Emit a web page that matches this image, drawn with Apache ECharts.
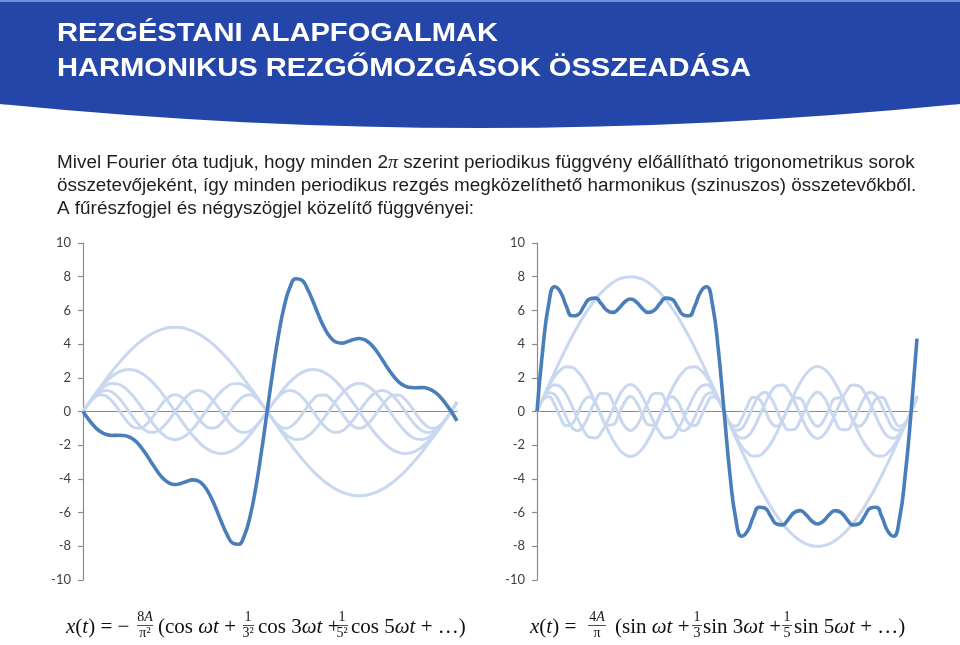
<!DOCTYPE html>
<html>
<head>
<meta charset="utf-8">
<script src="https://cdn.jsdelivr.net/npm/echarts@6/dist/echarts.min.js"></script>
<style>
html,body{margin:0;padding:0;background:#fff;}
#c{width:960px;height:645px;}
</style>
</head>
<body>
<div id="c"></div>
<script>
// x positions (t in radians), shared by both charts
const tValues = [0,0.10,0.20,0.29,0.39,0.49,0.59,0.69,0.79,0.88,0.98,1.08,1.18,1.28,1.37,1.47,1.57,1.67,1.77,1.87,1.96,2.06,2.16,2.26,2.36,2.45,2.55,2.65,2.75,2.85,2.95,3.04,3.14,3.24,3.34,3.44,3.53,3.63,3.73,3.83,3.93,4.03,4.12,4.22,4.32,4.42,4.52,4.61,4.71,4.81,4.91,5.01,5.11,5.20,5.30,5.40,5.50,5.60,5.69,5.79,5.89,5.99,6.09,6.19,6.28,6.40];
const yTicks = [-10,-8,-6,-4,-2,0,2,4,6,8,10];

// Left chart (sawtooth approximation): harmonic components and their sum
const sawH1 = [0,0.49,0.98,1.45,1.91,2.36,2.78,3.17,3.54,3.87,4.16,4.41,4.62,4.78,4.90,4.98,5,4.98,4.90,4.78,4.62,4.41,4.16,3.87,3.54,3.17,2.78,2.36,1.91,1.45,0.98,0.49,0,-0.49,-0.98,-1.45,-1.91,-2.36,-2.78,-3.17,-3.54,-3.87,-4.16,-4.41,-4.62,-4.78,-4.90,-4.98,-5,-4.98,-4.90,-4.78,-4.62,-4.41,-4.16,-3.87,-3.54,-3.17,-2.78,-2.36,-1.91,-1.45,-0.98,-0.49,0,0.58];
const sawH2 = [0,0.49,0.96,1.39,1.77,2.08,2.31,2.45,2.5,2.45,2.31,2.08,1.77,1.39,0.96,0.49,0,-0.49,-0.96,-1.39,-1.77,-2.08,-2.31,-2.45,-2.5,-2.45,-2.31,-2.08,-1.77,-1.39,-0.96,-0.49,0,0.49,0.96,1.39,1.77,2.08,2.31,2.45,2.5,2.45,2.31,2.08,1.77,1.39,0.96,0.49,0,-0.49,-0.96,-1.39,-1.77,-2.08,-2.31,-2.45,-2.5,-2.45,-2.31,-2.08,-1.77,-1.39,-0.96,-0.49,0,0.58];
const sawH3 = [0,0.48,0.93,1.29,1.54,1.66,1.64,1.47,1.18,0.79,0.33,-0.16,-0.64,-1.06,-1.39,-1.60,-1.67,-1.60,-1.39,-1.06,-0.64,-0.16,0.33,0.79,1.18,1.47,1.64,1.66,1.54,1.29,0.93,0.48,0,-0.48,-0.93,-1.29,-1.54,-1.66,-1.64,-1.47,-1.18,-0.79,-0.33,0.16,0.64,1.06,1.39,1.60,1.67,1.60,1.39,1.06,0.64,0.16,-0.33,-0.79,-1.18,-1.47,-1.64,-1.66,-1.54,-1.29,-0.93,-0.48,0,0.57];
const sawH4 = [0,0.48,0.88,1.16,1.25,1.16,0.88,0.48,0,-0.48,-0.88,-1.16,-1.25,-1.16,-0.88,-0.48,0,0.48,0.88,1.16,1.25,1.16,0.88,0.48,0,-0.48,-0.88,-1.16,-1.25,-1.16,-0.88,-0.48,0,0.48,0.88,1.16,1.25,1.16,0.88,0.48,0,-0.48,-0.88,-1.16,-1.25,-1.16,-0.88,-0.48,0,0.48,0.88,1.16,1.25,1.16,0.88,0.48,0,-0.48,-0.88,-1.16,-1.25,-1.16,-0.88,-0.48,0,0.56];
const sawH5 = [0,0.47,0.83,1.00,0.92,0.63,0.20,-0.29,-0.71,-0.96,-0.98,-0.77,-0.38,0.10,0.56,0.88,1,0.88,0.56,0.10,-0.38,-0.77,-0.98,-0.96,-0.71,-0.29,0.20,0.63,0.92,1.00,0.83,0.47,0,-0.47,-0.83,-1.00,-0.92,-0.63,-0.20,0.29,0.71,0.96,0.98,0.77,0.38,-0.10,-0.56,-0.88,-1,-0.88,-0.56,-0.10,0.38,0.77,0.98,0.96,0.71,0.29,-0.20,-0.63,-0.92,-1.00,-0.83,-0.47,0,0.55];
const sawSum = [0,-0.48,-0.89,-1.19,-1.36,-1.42,-1.41,-1.42,-1.51,-1.72,-2.08,-2.55,-3.08,-3.59,-4.00,-4.25,-4.33,-4.27,-4.15,-4.06,-4.12,-4.40,-4.93,-5.67,-6.51,-7.28,-7.80,-7.88,-7.40,-6.28,-4.58,-2.41,0,2.41,4.58,6.28,7.40,7.88,7.80,7.28,6.51,5.67,4.93,4.40,4.12,4.06,4.15,4.27,4.33,4.25,4.00,3.59,3.08,2.55,2.08,1.72,1.51,1.42,1.41,1.42,1.36,1.19,0.89,0.48,0,-0.56];

// Right chart (square wave approximation): odd harmonic components and their sum
const sqH1 = [0,0.78,1.56,2.32,3.06,3.77,4.45,5.08,5.66,6.18,6.65,7.06,7.39,7.66,7.85,7.96,8,7.96,7.85,7.66,7.39,7.06,6.65,6.18,5.66,5.08,4.45,3.77,3.06,2.32,1.56,0.78,0,-0.78,-1.56,-2.32,-3.06,-3.77,-4.45,-5.08,-5.66,-6.18,-6.65,-7.06,-7.39,-7.66,-7.85,-7.96,-8,-7.96,-7.85,-7.66,-7.39,-7.06,-6.65,-6.18,-5.66,-5.08,-4.45,-3.77,-3.06,-2.32,-1.56,-0.78,0,0.93];
const sqH3 = [0,0.77,1.48,2.06,2.46,2.65,2.62,2.35,1.89,1.26,0.52,-0.26,-1.02,-1.69,-2.22,-2.55,-2.67,-2.55,-2.22,-1.69,-1.02,-0.26,0.52,1.26,1.89,2.35,2.62,2.65,2.46,2.06,1.48,0.77,0,-0.77,-1.48,-2.06,-2.46,-2.65,-2.62,-2.35,-1.89,-1.26,-0.52,0.26,1.02,1.69,2.22,2.55,2.67,2.55,2.22,1.69,1.02,0.26,-0.52,-1.26,-1.89,-2.35,-2.62,-2.65,-2.46,-2.06,-1.48,-0.77,0,0.91];
const sqH5 = [0,0.75,1.33,1.59,1.48,1.02,0.31,-0.46,-1.13,-1.53,-1.57,-1.24,-0.61,0.16,0.89,1.41,1.6,1.41,0.89,0.16,-0.61,-1.24,-1.57,-1.53,-1.13,-0.46,0.31,1.02,1.48,1.59,1.33,0.75,0,-0.75,-1.33,-1.59,-1.48,-1.02,-0.31,0.46,1.13,1.53,1.57,1.24,0.61,-0.16,-0.89,-1.41,-1.6,-1.41,-0.89,-0.16,0.61,1.24,1.57,1.53,1.13,0.46,-0.31,-1.02,-1.48,-1.59,-1.33,-0.75,0,0.88];
const sqH7 = [0,0.73,1.12,1.01,0.44,-0.33,-0.95,-1.14,-0.81,-0.11,0.64,1.09,1.06,0.54,-0.22,-0.88,-1.14,-0.88,-0.22,0.54,1.06,1.09,0.64,-0.11,-0.81,-1.14,-0.95,-0.33,0.44,1.01,1.12,0.73,0,-0.73,-1.12,-1.01,-0.44,0.33,0.95,1.14,0.81,0.11,-0.64,-1.09,-1.06,-0.54,0.22,0.88,1.14,0.88,0.22,-0.54,-1.06,-1.09,-0.64,0.11,0.81,1.14,0.95,0.33,-0.44,-1.01,-1.12,-0.73,0,0.83];
const sqH9 = [0,0.69,0.87,0.42,-0.34,-0.85,-0.74,-0.09,0.63,0.88,0.49,-0.26,-0.82,-0.78,-0.17,0.56,0.89,0.56,-0.17,-0.78,-0.82,-0.26,0.49,0.88,0.63,-0.09,-0.74,-0.85,-0.34,0.42,0.87,0.69,0,-0.69,-0.87,-0.42,0.34,0.85,0.74,0.09,-0.63,-0.88,-0.49,0.26,0.82,0.78,0.17,-0.56,-0.89,-0.56,0.17,0.78,0.82,0.26,-0.49,-0.88,-0.63,0.09,0.74,0.85,0.34,-0.42,-0.87,-0.69,0,0.77];
const sqSum = [0,3.72,6.37,7.40,7.10,6.26,5.68,5.74,6.23,6.68,6.73,6.39,5.99,5.88,6.12,6.50,6.68,6.50,6.12,5.88,5.99,6.39,6.73,6.68,6.23,5.74,5.68,6.26,7.10,7.40,6.37,3.72,0,-3.72,-6.37,-7.40,-7.10,-6.26,-5.68,-5.74,-6.23,-6.68,-6.73,-6.39,-5.99,-5.88,-6.12,-6.50,-6.68,-6.50,-6.12,-5.88,-5.99,-6.39,-6.73,-6.68,-6.23,-5.74,-5.68,-6.26,-7.10,-7.40,-6.37,-3.72,0,4.32];

// Texts
const titleLines = ['REZGÉSTANI ALAPFOGALMAK', 'HARMONIKUS REZGŐMOZGÁSOK ÖSSZEADÁSA'];
const bodyLines = [
  'Mivel Fourier óta tudjuk, hogy minden 2{p|π} szerint periodikus függvény előállítható trigonometrikus sorok',
  'összetevőjeként, így minden periodikus rezgés megközelíthető harmonikus (szinuszos) összetevőkből.',
  'A fűrészfogjel és négyszögjel közelítő függvényei:'
];

const LIGHT = '#C9D8EE';
const DARK = '#4A7EBB';
const AXIS = '#8C8C8C';

const chart = echarts.init(document.getElementById('c'), null, {renderer: 'canvas'});

function lightSeries(data, idx) {
  return {type: 'line', xAxisIndex: idx, yAxisIndex: idx, data: data, smooth: true, showSymbol: false,
    lineStyle: {color: LIGHT, width: 3}, itemStyle: {color: LIGHT}, z: 2, silent: true};
}
function darkSeries(data, idx) {
  return {type: 'line', xAxisIndex: idx, yAxisIndex: idx, data: data, smooth: true, showSymbol: false,
    lineStyle: {color: DARK, width: 3.6}, itemStyle: {color: DARK}, z: 3, silent: true};
}
function xAx(idx) {
  return {type: 'category', gridIndex: idx, data: tValues, boundaryGap: false,
    axisLine: {show: true, onZero: true, lineStyle: {color: AXIS, width: 1.2}},
    axisTick: {show: false}, axisLabel: {show: false}, splitLine: {show: false}};
}
function yAx(idx) {
  return {type: 'value', gridIndex: idx, min: yTicks[0], max: yTicks[yTicks.length - 1], interval: 2,
    axisLine: {show: true, lineStyle: {color: AXIS, width: 1.2}},
    axisTick: {show: true, length: 5, lineStyle: {color: AXIS, width: 1.2}},
    axisLabel: {color: '#404040', fontSize: 13, fontFamily: 'Lato', margin: 12},
    splitLine: {show: false}};
}

function ftext(x, y, text, align, size) {
  return {type: 'text', x: x, y: y, z: 20,
    style: {text: text, fill: '#111', fontFamily: 'Liberation Serif', fontSize: size || 21,
      align: align || 'left', verticalAlign: 'middle', textAlign: align || 'left', textVerticalAlign: 'middle',
      rich: {i: {fontFamily: 'Liberation Serif', fontStyle: 'italic', fontSize: size || 21, fill: '#111', color: '#111'}}}};
}
function fbar(x1, x2, y) {
  return {type: 'line', z: 20, shape: {x1: x1, y1: y, x2: x2, y2: y}, style: {stroke: '#222', lineWidth: 0.8}};
}

const graphics = [
  {type: 'circle', z: 1, shape: {cx: 480, cy: -4684, r: 4812}, style: {fill: '#2446A8'}},
  {type: 'rect', z: 1, shape: {x: 0, y: 0, width: 960, height: 2}, style: {fill: '#6F8CD4'}},
  {type: 'text', x: 57, y: 34, z: 10, scaleX: 1.12, style: {text: titleLines[0], fill: '#fff', fontFamily: 'Liberation Sans', fontWeight: 'bold', fontSize: 26, verticalAlign: 'middle', textVerticalAlign: 'middle'}},
  {type: 'text', x: 57, y: 69, z: 10, scaleX: 1.12, style: {text: titleLines[1], fill: '#fff', fontFamily: 'Liberation Sans', fontWeight: 'bold', fontSize: 26, verticalAlign: 'middle', textVerticalAlign: 'middle'}}
];
bodyLines.forEach(function (line, i) {
  graphics.push({type: 'text', x: 57, y: 163 + i * 23, z: 10, scaleX: 1.05,
    style: {text: line, fill: '#1E1E1E', fontFamily: 'Liberation Sans', fontSize: 18, verticalAlign: 'middle', textVerticalAlign: 'middle',
      rich: {p: {fontFamily: 'Liberation Serif', fontStyle: 'italic', fontSize: 19, fill: '#1E1E1E', color: '#1E1E1E'}}}});
});

// Left formula
graphics.push(ftext(66, 627, '{i|x}({i|t}) = −'));
graphics.push(ftext(145, 617, '8{i|A}', 'center', 14));
graphics.push(fbar(137, 153, 625.5));
graphics.push(ftext(145, 633, 'π²', 'center', 14));
graphics.push(ftext(158, 627, '(cos {i|ωt} +'));
graphics.push(ftext(248, 617, '1', 'center', 14));
graphics.push(fbar(243, 254, 625.5));
graphics.push(ftext(248, 633, '3²', 'center', 14));
graphics.push(ftext(258, 627, 'cos 3{i|ωt} +'));
graphics.push(ftext(342, 617, '1', 'center', 14));
graphics.push(fbar(337, 348, 625.5));
graphics.push(ftext(342, 633, '5²', 'center', 14));
graphics.push(ftext(351, 627, 'cos 5{i|ωt} + …)'));
// Right formula
graphics.push(ftext(530, 627, '{i|x}({i|t}) ='));
graphics.push(ftext(597, 617, '4{i|A}', 'center', 14));
graphics.push(fbar(588, 606, 625.5));
graphics.push(ftext(597, 633, 'π', 'center', 14));
graphics.push(ftext(615, 627, '(sin {i|ωt} +'));
graphics.push(ftext(697, 617, '1', 'center', 14));
graphics.push(fbar(692, 702, 625.5));
graphics.push(ftext(697, 633, '3', 'center', 14));
graphics.push(ftext(703, 627, 'sin 3{i|ωt} +'));
graphics.push(ftext(787, 617, '1', 'center', 14));
graphics.push(fbar(782, 792, 625.5));
graphics.push(ftext(787, 633, '5', 'center', 14));
graphics.push(ftext(794, 627, 'sin 5{i|ωt} + …)'));

const option = {
  animation: false,
  backgroundColor: '#ffffff',
  grid: [
    {left: 83, top: 243, width: 374, height: 337},
    {left: 537, top: 243, width: 380, height: 337}
  ],
  xAxis: [xAx(0), xAx(1)],
  yAxis: [yAx(0), yAx(1)],
  series: [
    lightSeries(sawH1, 0), lightSeries(sawH2, 0), lightSeries(sawH3, 0), lightSeries(sawH4, 0), lightSeries(sawH5, 0),
    darkSeries(sawSum, 0),
    lightSeries(sqH1, 1), lightSeries(sqH3, 1), lightSeries(sqH5, 1), lightSeries(sqH7, 1), lightSeries(sqH9, 1),
    darkSeries(sqSum, 1)
  ],
  graphic: {elements: graphics}
};
chart.setOption(option);
</script>
</body>
</html>
